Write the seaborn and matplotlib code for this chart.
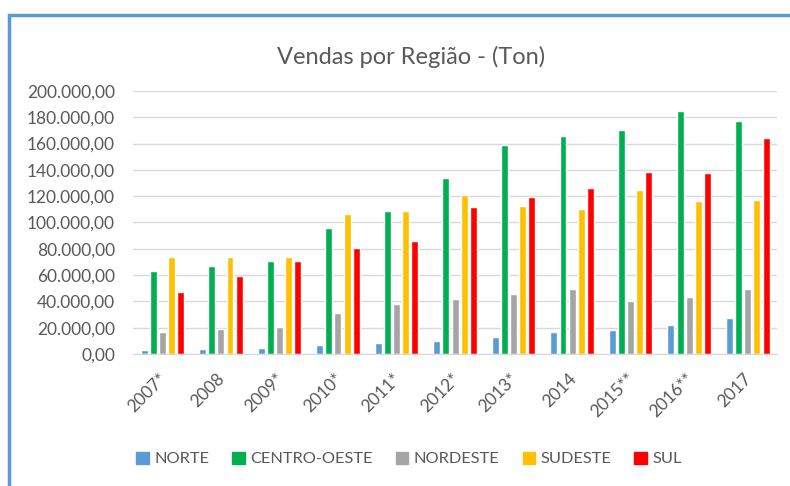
import numpy as np
import pandas as pd
import matplotlib.pyplot as plt
from matplotlib.patches import Rectangle
from matplotlib.ticker import FuncFormatter
from matplotlib.transforms import ScaledTranslation
import seaborn as sns

# values (tons)
anos = ['2007*', '2008', '2009*', '2010*', '2011*', '2012*', '2013*', '2014', '2015**', '2016**', '2017']
norte = [3000, 3800, 4500, 6800, 8300, 10000, 13100, 16900, 18200, 22000, 27600]
centro_oeste = [63000, 67000, 71000, 96000, 109000, 134100, 159100, 165400, 170200, 184600, 177500]
nordeste = [16500, 19000, 20200, 30900, 37900, 42200, 45300, 49800, 40200, 43500, 49800]
sudeste = [73400, 73400, 73400, 106500, 108500, 121100, 112500, 110300, 124700, 116600, 117400]
sul = [47000, 59200, 71000, 80700, 86000, 111700, 119100, 126200, 138300, 137600, 164600]

regioes = ['NORTE', 'CENTRO-OESTE', 'NORDESTE', 'SUDESTE', 'SUL']
cores = ['#5B9BD5', '#00B050', '#A5A5A5', '#FFC000', '#FF0000']

# build long-form table for seaborn
series = [norte, centro_oeste, nordeste, sudeste, sul]
rows = []
for reg, vals in zip(regioes, series):
    for ano, v in zip(anos, vals):
        rows.append({'Ano': ano, 'Regiao': reg, 'Toneladas': v})
df = pd.DataFrame(rows)

sns.set_style('white')
plt.rcParams['font.family'] = ['Lato', 'DejaVu Sans']

fig = plt.figure(figsize=(7.9, 4.86), dpi=100)
ax = fig.add_axes([0.1684, 0.2716, 0.8152, 0.5412])

sns.barplot(data=df, x='Ano', y='Toneladas', hue='Regiao', hue_order=regioes,
            palette=cores, order=anos, width=0.78, gap=0.24, saturation=1,
            ax=ax, legend=False)

ax.set_ylim(0, 200000)
ax.set_xlim(-0.5, len(anos) - 0.5)
ax.set_yticks(np.arange(0, 200001, 20000))


def fmt_br(v, pos):
    s = f'{v:,.2f}'
    return s.replace(',', 'X').replace('.', ',').replace('X', '.')


ax.yaxis.set_major_formatter(FuncFormatter(fmt_br))
ax.grid(axis='y', color='#D9D9D9', linewidth=1)
ax.set_axisbelow(True)
for side in ['top', 'right', 'left']:
    ax.spines[side].set_visible(False)
ax.spines['bottom'].set_color('#D9D9D9')
ax.tick_params(axis='both', length=0, colors='#595959', labelsize=12.5)
ax.tick_params(axis='y', pad=13)
ax.tick_params(axis='x', pad=11.5)
# rotated year labels, nudged a little to the left
shift = ScaledTranslation(-4 / 100, 0, fig.dpi_scale_trans)
for lbl in ax.get_xticklabels():
    lbl.set_rotation(45)
    lbl.set_ha('right')
    lbl.set_rotation_mode('anchor')
    lbl.set_transform(lbl.get_transform() + shift)
ax.set_xlabel('')
ax.set_ylabel('')

fig.text(0.520, 0.883, 'Vendas por Região - (Ton)', ha='center', va='center',
         fontsize=17, color='#595959')

# legend at the bottom
handles = [Rectangle((0, 0), 1, 1, color=c) for c in cores]
fig.legend(handles, regioes, loc='center', bbox_to_anchor=(0.518, 0.0556), ncol=5,
           frameon=False, fontsize=11.8, handlelength=0.75, handleheight=0.75,
           handletextpad=0.35, columnspacing=1.4, labelcolor='#595959')

# chart frame (blue border, cut off on right and bottom)
fig.patches.append(Rectangle((0.0114, -0.5), 2, 0.5 + 0.969, transform=fig.transFigure,
                             fill=False, edgecolor='#5B9BD5', linewidth=2.5))

fig.savefig('out.png', dpi=100, facecolor='white')
